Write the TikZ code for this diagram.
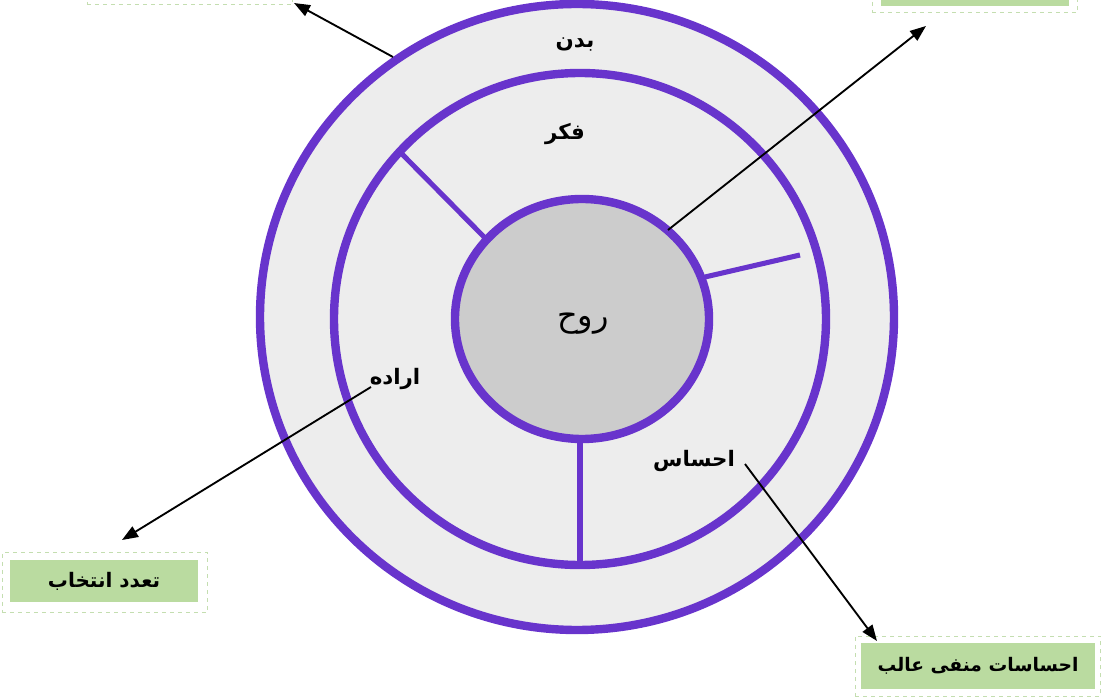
\documentclass[tikz,border=0pt]{standalone}
\usepackage{fontspec}
\newfontfamily\farsi[Script=Arabic]{DejaVu Sans}
\TeXXeTstate=1
\usetikzlibrary{arrows.meta,positioning,shapes.geometric}
\definecolor{ringpurple}{RGB}{104,52,204}
\definecolor{ringgray}{RGB}{237,237,237}
\definecolor{coregray}{RGB}{204,204,204}
\definecolor{tagfill}{RGB}{186,219,160}
\definecolor{tagedge}{RGB}{196,222,176}

\begin{document}
\begin{tikzpicture}[x=0.75pt,y=-0.75pt,
    ring/.style={draw=ringpurple,line width=6.3pt,fill=ringgray},
    spoke/.style={draw=ringpurple,line width=3.8pt},
    word/.style={font=\farsi\bfseries\fontsize{16}{19}\selectfont},
    tag/.style={fill=tagfill,minimum width=141pt,minimum height=31pt,
                font=\farsi\bfseries\fontsize{15}{18}\selectfont},
    frame/.style={draw=tagedge,dashed,thin,minimum width=154pt,minimum height=45pt},
    arrow/.style={-{Triangle[length=12pt,width=9pt]},line width=1.4pt}]
    \useasboundingbox (0,0) rectangle (1108,698);
    \clip (0,0) rectangle (1108,698);

    % rings
    \draw[ring] (577,317) ellipse [x radius=317,y radius=313];
    \draw[ring] (580,319) ellipse [x radius=246,y radius=246];
    \draw[spoke] (399,151) -- (490,243);
    \draw[spoke] (705,277) -- (800,255);
    \draw[spoke] (580,438) -- (580,565);
    \draw[ring,fill=coregray] (582,319) ellipse [x radius=127,y radius=120];

    % labels
    \node[word] (body) at (575,44) {\beginR بدن\endR};
    \node[word] (thought) at (565,134) {\beginR فکر\endR};
    \node[font=\farsi\fontsize{24}{28}\selectfont] (soul) at (583,324) {\beginR روح\endR};
    \node[word] (will) at (395,379) {\beginR اراده\endR};
    \node[word] (feeling) at (694,461) {\beginR احساس\endR};

    % boxes
    \node[tag] (choice) at (104,581) {\beginR تعدد انتخاب\endR};
    \node[frame] (choicef) at (104.5,582.5) {};
    \node[tag,minimum width=176pt,minimum height=35pt,
          font=\farsi\bfseries\fontsize{14}{17}\selectfont] (negative) at (978,666)
         {\beginR احساسات منفی عالب\endR};
    \node[frame,minimum width=184pt,minimum height=45pt] (negativef) at (978,666) {};
    \node[tag] (topright) at (974.5,-15) {};
    \node[frame] (toprightf) at (974.5,-17.5) {};
    \node[tag] (topleft) at (189.5,-23) {};
    \node[frame] (topleftf) at (189.5,-25.5) {};

    % connectors
    \coordinate (bodytail) at (393,57);
    \coordinate (bodytip) at (294,3);
    \coordinate (soultail) at (668,230);
    \coordinate (soultip) at (926,26);
    \coordinate (willtail) at (371,387);
    \coordinate (willtip) at (122,540);
    \coordinate (feeltail) at (745,464);
    \coordinate (feeltip) at (877,641);
    \draw[arrow] (bodytail) -- (bodytip);
    \draw[arrow] (soultail) -- (soultip);
    \draw[arrow] (willtail) -- (willtip);
    \draw[arrow] (feeltail) -- (feeltip);
  \end{tikzpicture}
\end{document}
